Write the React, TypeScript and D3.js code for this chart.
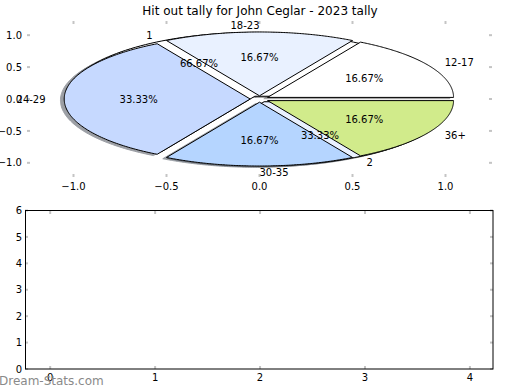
import React from "react";
import * as d3 from "d3";

const title = "Hit out tally for John Ceglar - 2023 tally";
const ageGroups = ["12-17", "18-23", "24-29", "30-35", "36+"];
const hitOuts = [1, 1, 2, 1, 1];
const halfLabels = ["1", "2"];
const halfCounts = [2, 1];
const wedgeColors = ["#ffffff", "#e9f1ff", "#c6d9ff", "#b5d5ff", "#d1eb8b"];
const topTicks = [-1.0, -0.5, 0.0, 0.5, 1.0];
const bottomYTicks = [0, 1, 2, 3, 4, 5, 6];
const bottomXTicks = [0, 1, 2, 3, 4];
const watermark = "Dream-Stats.com";

const W = 520;
const H = 390;
const FONT = "DejaVu Sans";
const EXPLODE = 0.05;
const TICK_COLOR = "#c4c4c4";

// top (pie) axes
const xS = d3.scaleLinear().domain([-1.25, 1.25]).range([27, 492]);
const yS = d3.scaleLinear().domain([-1.222, 1.222]).range([177, 21]);
// bottom (empty) axes
const xB = d3.scaleLinear().domain([-0.24, 4.22]).range([25, 493]);
const yB = d3.scaleLinear().domain([0, 6]).range([369, 210.5]);

type Wedge = {
  t1: number;
  t2: number;
  tm: number;
  cx: number;
  cy: number;
  frac: number;
  color: string;
  label: string;
};

function layout(values: number[], labels: string[], colors: string[]): Wedge[] {
  const total = d3.sum(values);
  const arcs = d3.pie<number>().sort(null).startAngle(0).endAngle(2 * Math.PI)(values);
  return arcs.map((a, i) => {
    const tm = (a.startAngle + a.endAngle) / 2;
    return {
      t1: a.startAngle,
      t2: a.endAngle,
      tm,
      cx: EXPLODE * Math.cos(tm),
      cy: EXPLODE * Math.sin(tm),
      frac: values[i] / total,
      color: colors[i % colors.length],
      label: labels[i],
    };
  });
}

const line = d3
  .line<[number, number]>()
  .x((d) => xS(d[0]))
  .y((d) => yS(d[1]));

function wedgePath(w: Wedge, dx = 0, dy = 0): string {
  const n = 120;
  const pts: [number, number][] = [[w.cx + dx, w.cy + dy]];
  for (let k = 0; k <= n; k++) {
    const t = w.t1 + ((w.t2 - w.t1) * k) / n;
    pts.push([w.cx + dx + Math.cos(t), w.cy + dy + Math.sin(t)]);
  }
  return (line(pts) || "") + "Z";
}

function shadowColor(c: string): string {
  const r = d3.rgb(c);
  return d3.rgb(r.r * 0.3, r.g * 0.3, r.b * 0.3).formatHex();
}

const pct = d3.format(".2f");

function anchorFor(xt: number, tm: number): "start" | "end" {
  if (Math.abs(xt) < 1e-9) return tm < Math.PI ? "end" : "start";
  return xt > 0 ? "start" : "end";
}

const fmtTop = (v: number) => d3.format(".1f")(v).replace("-", "\u2212");

export default function App() {
  const ageWedges = layout(hitOuts, ageGroups, wedgeColors);
  const halfWedges = layout(halfCounts, halfLabels, wedgeColors);
  const allWedges = [...halfWedges, ...ageWedges];

  const labelEls = (ws: Wedge[], key: string) =>
    ws.map((w, i) => {
      const xt = w.cx + 1.1 * Math.cos(w.tm);
      const yt = w.cy + 1.1 * Math.sin(w.tm);
      const px = w.cx + 0.6 * Math.cos(w.tm);
      const py = w.cy + 0.6 * Math.sin(w.tm);
      return (
        <g key={key + i}>
          <text
            x={xS(xt)}
            y={yS(yt)}
            dy="0.36em"
            textAnchor={anchorFor(xt, w.tm)}
            fontSize={10}
          >
            {w.label}
          </text>
          <text x={xS(px)} y={yS(py)} dy="0.36em" textAnchor="middle" fontSize={10}>
            {pct(w.frac * 100) + "%"}
          </text>
        </g>
      );
    });

  return (
    <svg
      width={W}
      height={H}
      viewBox={`0 0 ${W} ${H}`}
      style={{ position: "absolute", left: 0, top: 0, background: "#fff" }}
      fontFamily={FONT}
    >
      <rect x={0} y={0} width={W} height={H} fill="#fff" />
      {/* title */}
      <text x={260} y={14.5} textAnchor="middle" fontSize={12}>
        {title}
      </text>

      {/* top axes ticks */}
      <g stroke={TICK_COLOR} strokeWidth={2}>
        {topTicks.map((t) => (
          <g key={"tx" + t}>
            <line x1={xS(t)} x2={xS(t)} y1={21} y2={24} />
            <line x1={xS(t)} x2={xS(t)} y1={174} y2={177} />
          </g>
        ))}
        {topTicks.map((t) => (
          <g key={"ty" + t}>
            <line x1={27} x2={30} y1={yS(t)} y2={yS(t)} />
            <line x1={489} x2={492} y1={yS(t)} y2={yS(t)} />
          </g>
        ))}
      </g>

      {/* shadows */}
      {allWedges.map((w, i) => (
        <path
          key={"s" + i}
          d={wedgePath(w, -0.02, -0.02)}
          fill={shadowColor(w.color)}
          stroke={shadowColor(w.color)}
          strokeWidth={1}
          opacity={0.5}
        />
      ))}
      {/* second pie (below) then age pie */}
      {allWedges.map((w, i) => (
        <path key={"w" + i} d={wedgePath(w)} fill={w.color} stroke="#000" strokeWidth={1} strokeLinejoin="round" />
      ))}

      {labelEls(halfWedges, "h")}
      {labelEls(ageWedges, "a")}

      {/* top axes tick labels */}
      {topTicks.map((t) => (
        <text key={"lx" + t} x={xS(t)} y={189.5} textAnchor="middle" fontSize={10}>
          {fmtTop(t)}
        </text>
      ))}
      {topTicks.map((t) => (
        <text key={"ly" + t} x={22} y={yS(t)} dy="0.36em" textAnchor="end" fontSize={10}>
          {fmtTop(t)}
        </text>
      ))}

      {/* bottom axes */}
      <g stroke={TICK_COLOR} strokeWidth={2}>
        {bottomXTicks.map((t) => (
          <g key={"bx" + t}>
            <line x1={xB(t)} x2={xB(t)} y1={211} y2={214} />
            <line x1={xB(t)} x2={xB(t)} y1={366} y2={369} />
          </g>
        ))}
        {bottomYTicks.map((t) => (
          <g key={"by" + t}>
            <line x1={25} x2={28} y1={yB(t)} y2={yB(t)} />
            <line x1={490} x2={493} y1={yB(t)} y2={yB(t)} />
          </g>
        ))}
      </g>
      <rect
        x={25.5}
        y={210.5}
        width={467.5}
        height={158.5}
        fill="none"
        stroke="#000"
        strokeWidth={1}
      />
      {bottomXTicks.map((t) => (
        <text key={"blx" + t} x={xB(t)} y={381.3} textAnchor="middle" fontSize={10}>
          {String(t)}
        </text>
      ))}
      {bottomYTicks.map((t) => (
        <text key={"bly" + t} x={22} y={yB(t)} dy="0.36em" textAnchor="end" fontSize={10}>
          {String(t)}
        </text>
      ))}

      {/* watermark */}
      <text x={-1} y={384.5} fontSize={12} fill="#8a8a8a">
        {watermark}
      </text>
    </svg>
  );
}
